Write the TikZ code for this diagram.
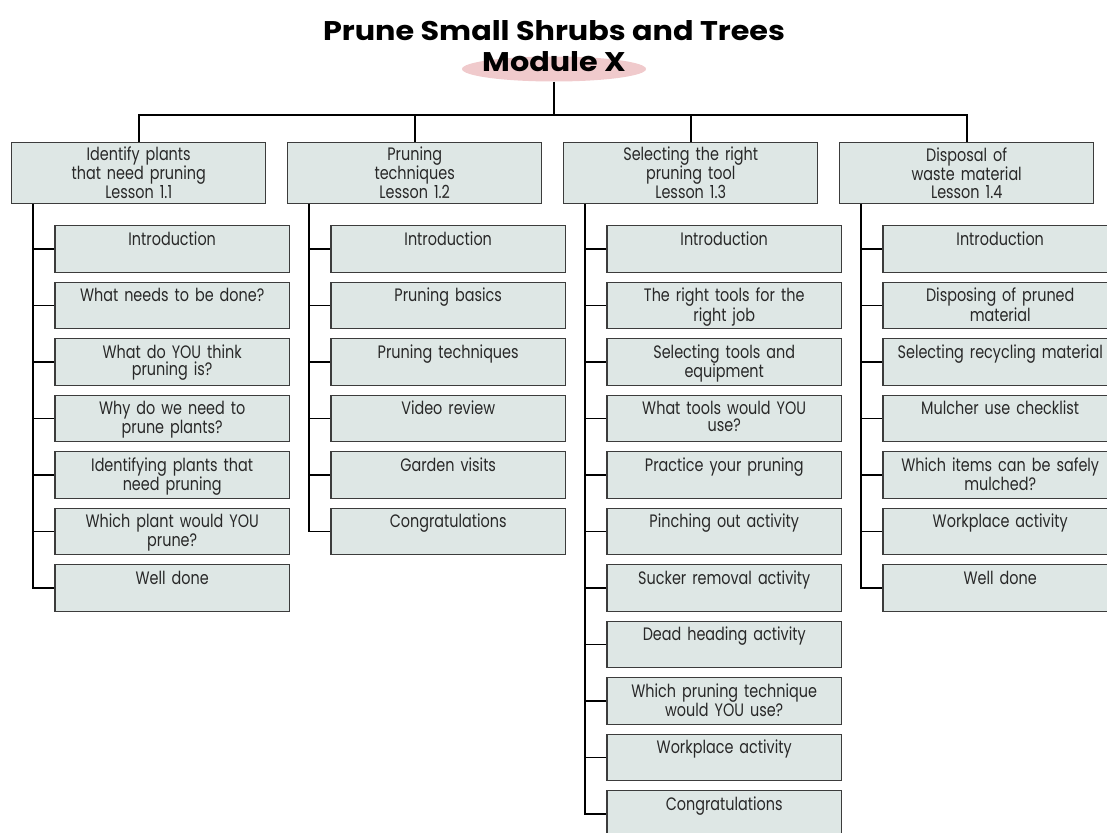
\documentclass[tikz,border=0pt]{standalone}
\usepackage{fontspec}
\usetikzlibrary{shapes.geometric}
\setmainfont[FakeStretch=0.8]{Poppins}
\newfontfamily\titlefont[FakeStretch=1.12]{Poppins}
\definecolor{boxfill}{RGB}{222,231,229}
\definecolor{boxline}{RGB}{60,60,60}
\definecolor{boxtext}{RGB}{40,40,40}
\definecolor{modpink}{RGB}{240,202,204}
\tikzset{
  lessonbox/.style={draw=boxline, line width=1.3pt, fill=boxfill, anchor=north,
    minimum width=254pt, minimum height=61pt, text width=240pt, align=center,
    inner sep=2pt, text=boxtext, font=\fontsize{18}{17.8}\selectfont},
  subbox/.style={draw=boxline, line width=1.3pt, fill=boxfill, anchor=north,
    minimum width=233pt, minimum height=46.5pt, text width=228pt, align=center,
    inner ysep=4pt, text height=15.5pt, text depth=23pt, text=boxtext,
    font=\fontsize{18}{17.3}\selectfont},
  titletext/.style={anchor=base, font=\titlefont\fontsize{27}{30}\selectfont\bfseries},
  link/.style={line width=1.8pt}
}
\begin{document}
\begin{tikzpicture}[x=1pt,y=-1pt]
  \useasboundingbox (0,0) rectangle (1107,832);
  \clip (0,0) rectangle (1107,832);
  % title and module
  \node[ellipse, fill=modpink, minimum width=184pt, minimum height=25pt, inner sep=0pt] (mod) at (554,69) {};
  \node[titletext] (title) at (554,41) {Prune Small Shrubs and Trees};
  \node[titletext] (modlabel) at (554,71.5) {Module X};
  \coordinate (bus) at (554,115);
  % lessons
  \node[lessonbox] (l1) at (138.7,141.7) {Identify plants\\that need pruning\\Lesson 1.1};
  \node[lessonbox] (l2) at (414.7,141.7) {Pruning\\techniques\\Lesson 1.2};
  \node[lessonbox] (l3) at (690.7,141.7) {Selecting the right\\pruning tool\\Lesson 1.3};
  \node[lessonbox] (l4) at (966.7,141.7) {Disposal of\\waste material\\Lesson 1.4};
  \draw[link] (mod.south) -- (bus);
  \draw[link] (l1.north) |- (bus) -| (l4.north);
  \draw[link] (l2.north) |- (bus);
  \draw[link] (l3.north) |- (bus);
  % topics
  \foreach \j/\t in {1/Introduction, 2/What needs to be done?, 3/What do YOU think\\pruning is?,
      4/Why do we need to\\prune plants?, 5/Identifying plants that\\need pruning,
      6/Which plant would YOU\\prune?, 7/Well done} {
    \node[subbox] (s1-\j) at (172.2,225+56.5*\j-56.5) {\t};
    \draw[link] ([xshift=22.3pt]l1.south west) |- (s1-\j.west);
  }
  \foreach \j/\t in {1/Introduction, 2/Pruning basics, 3/Pruning techniques,
      4/Video review, 5/Garden visits, 6/Congratulations} {
    \node[subbox] (s2-\j) at (448.2,225+56.5*\j-56.5) {\t};
    \draw[link] ([xshift=22.3pt]l2.south west) |- (s2-\j.west);
  }
  \foreach \j/\t in {1/Introduction, 2/The right tools for the\\right job, 3/Selecting tools and\\equipment,
      4/What tools would YOU\\use?, 5/Practice your pruning, 6/Pinching out activity,
      7/Sucker removal activity, 8/Dead heading activity, 9/Which pruning technique\\would YOU use?,
      10/Workplace activity, 11/Congratulations} {
    \node[subbox] (s3-\j) at (724.2,225+56.5*\j-56.5) {\t};
    \draw[link] ([xshift=22.3pt]l3.south west) |- (s3-\j.west);
  }
  \foreach \j/\t in {1/Introduction, 2/Disposing of pruned\\material, 3/Selecting recycling material,
      4/Mulcher use checklist, 5/Which items can be safely\\mulched?, 6/Workplace activity, 7/Well done} {
    \node[subbox] (s4-\j) at (1000.2,225+56.5*\j-56.5) {\t};
    \draw[link] ([xshift=22.3pt]l4.south west) |- (s4-\j.west);
  }
\end{tikzpicture}
\end{document}
